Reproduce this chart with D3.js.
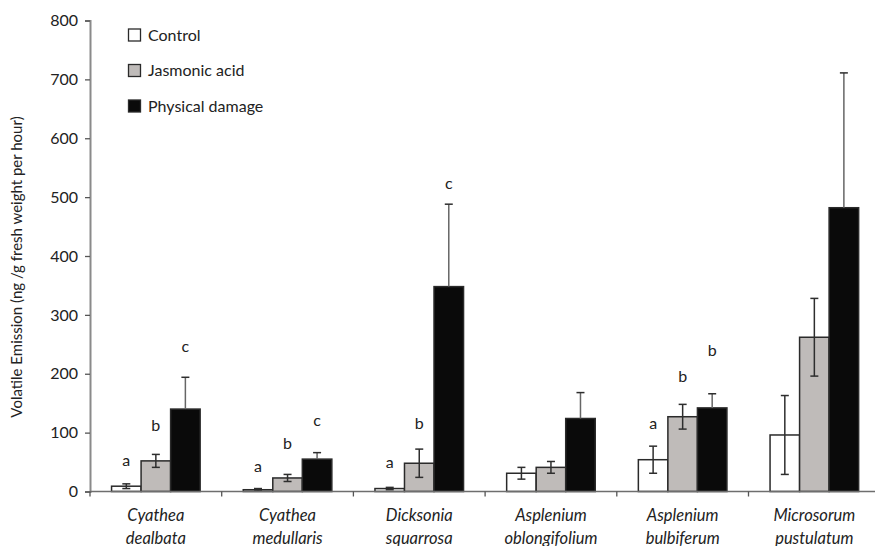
<!DOCTYPE html>
<html><head><meta charset="utf-8">
<script src="https://cdn.jsdelivr.net/npm/d3@7"></script>
<style>
html,body{margin:0;padding:0;background:#fff;}
svg{display:block;}
text{font-family:Lato, "Open Sans", sans-serif;fill:#222;}
</style></head>
<body>
<svg id="chart" width="875" height="546"></svg>
<script>
const categories = [["Cyathea","dealbata"],["Cyathea","medullaris"],["Dicksonia","squarrosa"],["Asplenium","oblongifolium"],["Asplenium","bulbiferum"],["Microsorum","pustulatum"]];
const seriesNames = ["Control","Jasmonic acid","Physical damage"];
const controlVals = [9, 3, 5, 31, 54, 96];
const controlErr  = [4, 2, 2, 10, 23, 67];
const jaVals      = [52, 23, 48, 41, 127, 262];
const jaErr       = [11, 6, 24, 10, 21, 66];
const pdVals      = [140, 55, 348, 124, 142, 482];
const pdErr       = [54, 11, 140, 44, 24, 229];
// significance letters and the value height at which each is shown
const controlLetters = ["a","a","a","","a",""];
const jaLetters      = ["b","b","b","","b",""];
const pdLetters      = ["c","c","c","","b",""];
const controlLetterAt = [53, 43, 49, 0, 115, 0];
const jaLetterAt      = [113, 82, 115, 0, 196, 0];
const pdLetterAt      = [246, 121, 524, 0, 239, 0];
const yTicks = [0,100,200,300,400,500,600,700,800];

const series = [
  {name: seriesNames[0], vals: controlVals, err: controlErr, letters: controlLetters, at: controlLetterAt, fill:"#ffffff", down:true},
  {name: seriesNames[1], vals: jaVals, err: jaErr, letters: jaLetters, at: jaLetterAt, fill:"#bfbbb9", down:true},
  {name: seriesNames[2], vals: pdVals, err: pdErr, letters: pdLetters, at: pdLetterAt, fill:"#0a0a0a", down:false}
];

const svg = d3.select("#chart");
const mLeft = 90, mBottom = 491.5, mTop = 20.5;
const step = 131.7;
const y = d3.scaleLinear().domain([0,800]).range([mBottom, mTop]);
const x0 = d3.scaleBand().domain(d3.range(categories.length)).range([mLeft, mLeft + step*categories.length]).padding(0);
const x1 = d3.scaleBand().domain(d3.range(series.length)).range([0, x0.bandwidth()]).paddingInner(0).paddingOuter(0.73);

// y axis
const yAxis = d3.axisLeft(y).tickValues(yTicks).tickSize(5).tickPadding(7);
const gy = svg.append("g").attr("transform",`translate(${mLeft},0)`).call(yAxis);
gy.select(".domain").attr("stroke","#8a8a8a").attr("stroke-width",2);
gy.selectAll(".tick line").attr("stroke","#555").attr("stroke-width",1.3);
gy.selectAll(".tick text").attr("font-size","16px").attr("font-family","Lato, sans-serif").attr("fill","#333");

// bars
series.forEach((s, si) => {
  const g = svg.append("g");
  g.selectAll("rect").data(s.vals).join("rect")
    .attr("x",(d,i)=>x0(i)+x1(si))
    .attr("y",d=>y(d))
    .attr("width",x1.bandwidth())
    .attr("height",d=>y(0)-y(d))
    .attr("fill",s.fill)
    .attr("stroke","#2a2a2a")
    .attr("stroke-width",1.5);
});

// error bars
series.forEach((s, si) => {
  const g = svg.append("g").attr("stroke","#2e2e2e").attr("stroke-width",1.5);
  s.vals.forEach((v,i)=>{
    const cx = x0(i)+x1(si)+x1.bandwidth()/2;
    const hi = v + s.err[i], lo = s.down ? Math.max(0, v - s.err[i]) : v;
    g.append("line").attr("x1",cx).attr("x2",cx).attr("y1",y(lo)).attr("y2",y(hi)).attr("stroke", s.down ? "#2e2e2e" : "#666");
    g.append("line").attr("x1",cx-4).attr("x2",cx+4).attr("y1",y(hi)).attr("y2",y(hi));
    if (s.down) g.append("line").attr("x1",cx-4).attr("x2",cx+4).attr("y1",y(lo)).attr("y2",y(lo));
  });
});

// letters
series.forEach((s, si) => {
  s.letters.forEach((L,i)=>{
    if(!L) return;
    svg.append("text")
      .attr("x", x0(i)+x1(si)+x1.bandwidth()/2)
      .attr("y", y(s.at[i]))
      .attr("dy","0.35em")
      .attr("text-anchor","middle")
      .attr("font-size","16px")
      .text(L);
  });
});

// x axis
svg.append("line").attr("x1",mLeft).attr("x2",875).attr("y1",mBottom).attr("y2",mBottom).attr("stroke","#6e6e6e").attr("stroke-width",1.6);
const gx = svg.append("g");
d3.range(categories.length).forEach(i=>{
  const xb = x0(i);
  gx.append("line").attr("x1",xb).attr("x2",xb).attr("y1",mBottom).attr("y2",mBottom+5).attr("stroke","#555").attr("stroke-width",1.3);
  const cx = xb + x0.bandwidth()/2;
  const t = gx.append("text").attr("x",cx).attr("y",521).attr("text-anchor","middle").attr("font-style","italic").attr("font-size","16.5px");
  t.append("tspan").attr("x",cx).text(categories[i][0]);
  t.append("tspan").attr("x",cx).attr("dy",22.5).text(categories[i][1]);
});

// y title
svg.append("text").attr("transform","translate(22,267) rotate(-90)").attr("text-anchor","middle").attr("font-size","15px").text("Volatile Emission (ng /g fresh weight per hour)");

// legend
const lg = svg.append("g");
series.forEach((s,si)=>{
  const yy = 35 + si*35.5;
  lg.append("rect").attr("x",128.5).attr("y",yy-6).attr("width",12).attr("height",12).attr("fill",s.fill).attr("stroke","#2a2a2a").attr("stroke-width",1.3);
  lg.append("text").attr("x",148).attr("y",yy).attr("dy","0.35em").attr("font-size","16px").text(s.name);
});
</script>
</body></html>
